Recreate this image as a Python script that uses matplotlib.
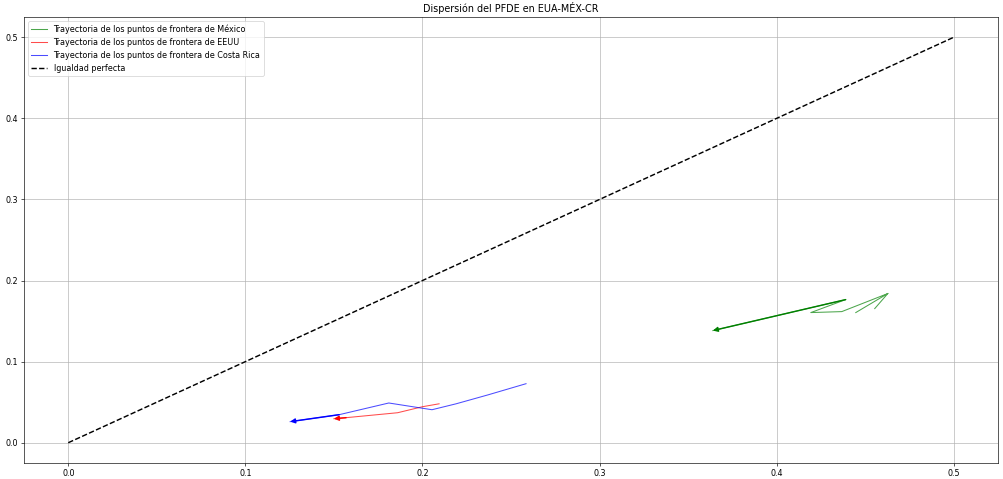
import numpy as np
import matplotlib
matplotlib.use("Agg")
import matplotlib.pyplot as plt

# Trajectory data
mex_x = [0.4554, 0.4628, 0.4447, np.nan, 0.4628, 0.4368, 0.4193, 0.4390, 0.3640]
mex_y = [0.1654, 0.1840, 0.1605, np.nan, 0.1840, 0.1617, 0.1605, 0.1765, 0.1383]

usa_x = [0.2094, 0.2000, 0.1860, 0.1569, 0.1500]
usa_y = [0.0480, 0.0444, 0.0370, 0.0309, 0.0296]

cr_x = [0.2585, 0.2370, 0.2190, 0.2054, 0.1810, 0.1530, 0.1253]
cr_y = [0.0728, 0.0590, 0.0480, 0.0407, 0.0490, 0.0346, 0.0260]

eq_x = [0.0, 0.5]
eq_y = [0.0, 0.5]

labels = ["Trayectoria de los puntos de frontera de México",
          "Trayectoria de los puntos de frontera de EEUU",
          "Trayectoria de los puntos de frontera de Costa Rica",
          "Igualdad perfecta"]
title = "Dispersión del PFDE en EUA-MÉX-CR"

DPI = 57.5
fig = plt.figure(figsize=(1004 / DPI, 479 / DPI), dpi=DPI)
ax = fig.add_axes([0.0239, 0.0334, 0.994 - 0.0239, 0.9645 - 0.0334])

series = [(mex_x, mex_y, "green"), (usa_x, usa_y, "red"), (cr_x, cr_y, "blue")]
for (xs, ys, c), lab in zip(series, labels[:3]):
    ax.plot(xs, ys, color=c, alpha=0.7, lw=1.3, label=lab)
    ax.annotate("", xy=(xs[-1], ys[-1]), xytext=(xs[-2], ys[-2]),
                arrowprops=dict(arrowstyle="-|>", color=c, lw=1.8,
                                shrinkA=0, shrinkB=0, mutation_scale=12))

ax.plot(eq_x, eq_y, "k--", lw=1.8, label=labels[3])

ax.set_title(title, fontsize=12)
ax.grid(True)
ax.legend(loc="upper left", fontsize=10)
ax.tick_params(labelsize=10)

fig.savefig("out.png", dpi=DPI)
